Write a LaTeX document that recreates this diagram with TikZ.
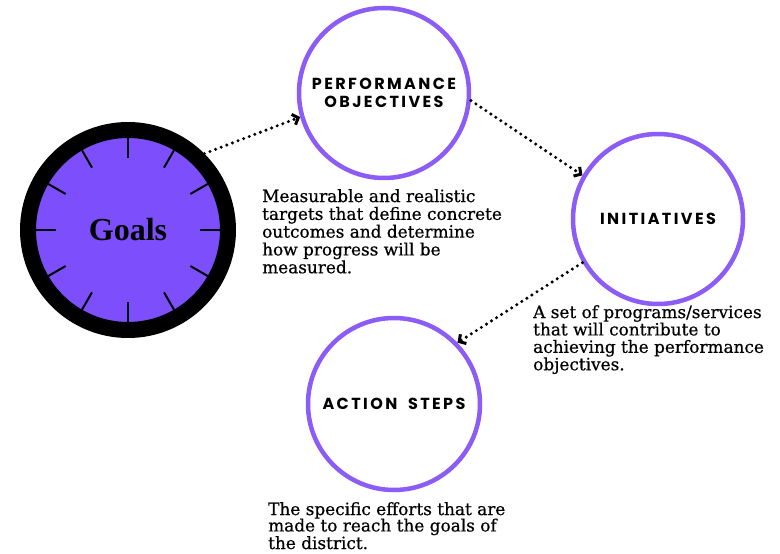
\documentclass[tikz,border=0pt]{standalone}
\usepackage{fontspec}
\usetikzlibrary{arrows.meta,calc}
\newfontfamily\labelfont[LetterSpace=15]{Poppins}
\newfontfamily\descfont[FakeBold=0.6]{DejaVu Serif}
\newfontfamily\goalsfont{Liberation Serif}
\definecolor{ringpurple}{RGB}{140,92,246}
\definecolor{goalfill}{RGB}{124,78,252}
\tikzset{
  ring/.style={circle, draw=ringpurple, line width=4.5pt, minimum size=170pt, inner sep=0pt,
    font=\labelfont\bfseries\fontsize{16}{19}\selectfont, align=center},
  desc/.style={anchor=north west, inner sep=0pt, align=left,
    font=\descfont\fontsize{16.9}{17.8}\selectfont},
  flow/.style={line width=3.4pt, line cap=round, dash pattern=on 0pt off 6pt,
    -{Straight Barb[length=5pt,width=11pt,line width=3pt]}},
  tick/.style={line width=2pt}
}
\begin{document}
\begin{tikzpicture}[x=1pt,y=-1pt]
\useasboundingbox[fill=white] (0,0) rectangle (780,554);
% Goals clock
\node[circle, fill=goalfill, draw=black, line width=16pt, minimum size=200pt, inner sep=0pt,
  font=\goalsfont\bfseries\fontsize{32}{36}\selectfont] (goals) at (128,230) {Goals};
\foreach \a in {0,30,...,330}
  \draw[tick] ($(goals.center)+(\a:72)$) -- ($(goals.center)+(\a:92)$);
% Circles
\node[ring] (perf) at (384,93) {PERFORMANCE\\[-1pt]OBJECTIVES};
\node[ring] (init) at (658,219) {INITIATIVES};
\node[ring, minimum size=172pt] (act) at (394,404) {ACTION\hspace{5pt} STEPS};
% Descriptions
\node[desc] (d1) at (262,189) {Measurable and realistic\\targets that define concrete\\outcomes and determine\\how progress will be\\measured.};
\node[desc, font=\descfont\fontsize{16.9}{17.4}\selectfont] (d2) at (533,305) {A set of programs/services\\that will contribute to\\achieving the performance\\objectives.};
\node[desc, font=\descfont\fontsize{16.9}{16.4}\selectfont] (d3) at (268,502) {The specific efforts that are\\made to reach the goals of\\the district.};
% Connectors
\draw[flow] (goals.45) -- (perf.196);
\draw[flow] (perf.-5) -- (init.150);
\draw[flow] (init.210) -- (act.44);
\end{tikzpicture}
\end{document}
